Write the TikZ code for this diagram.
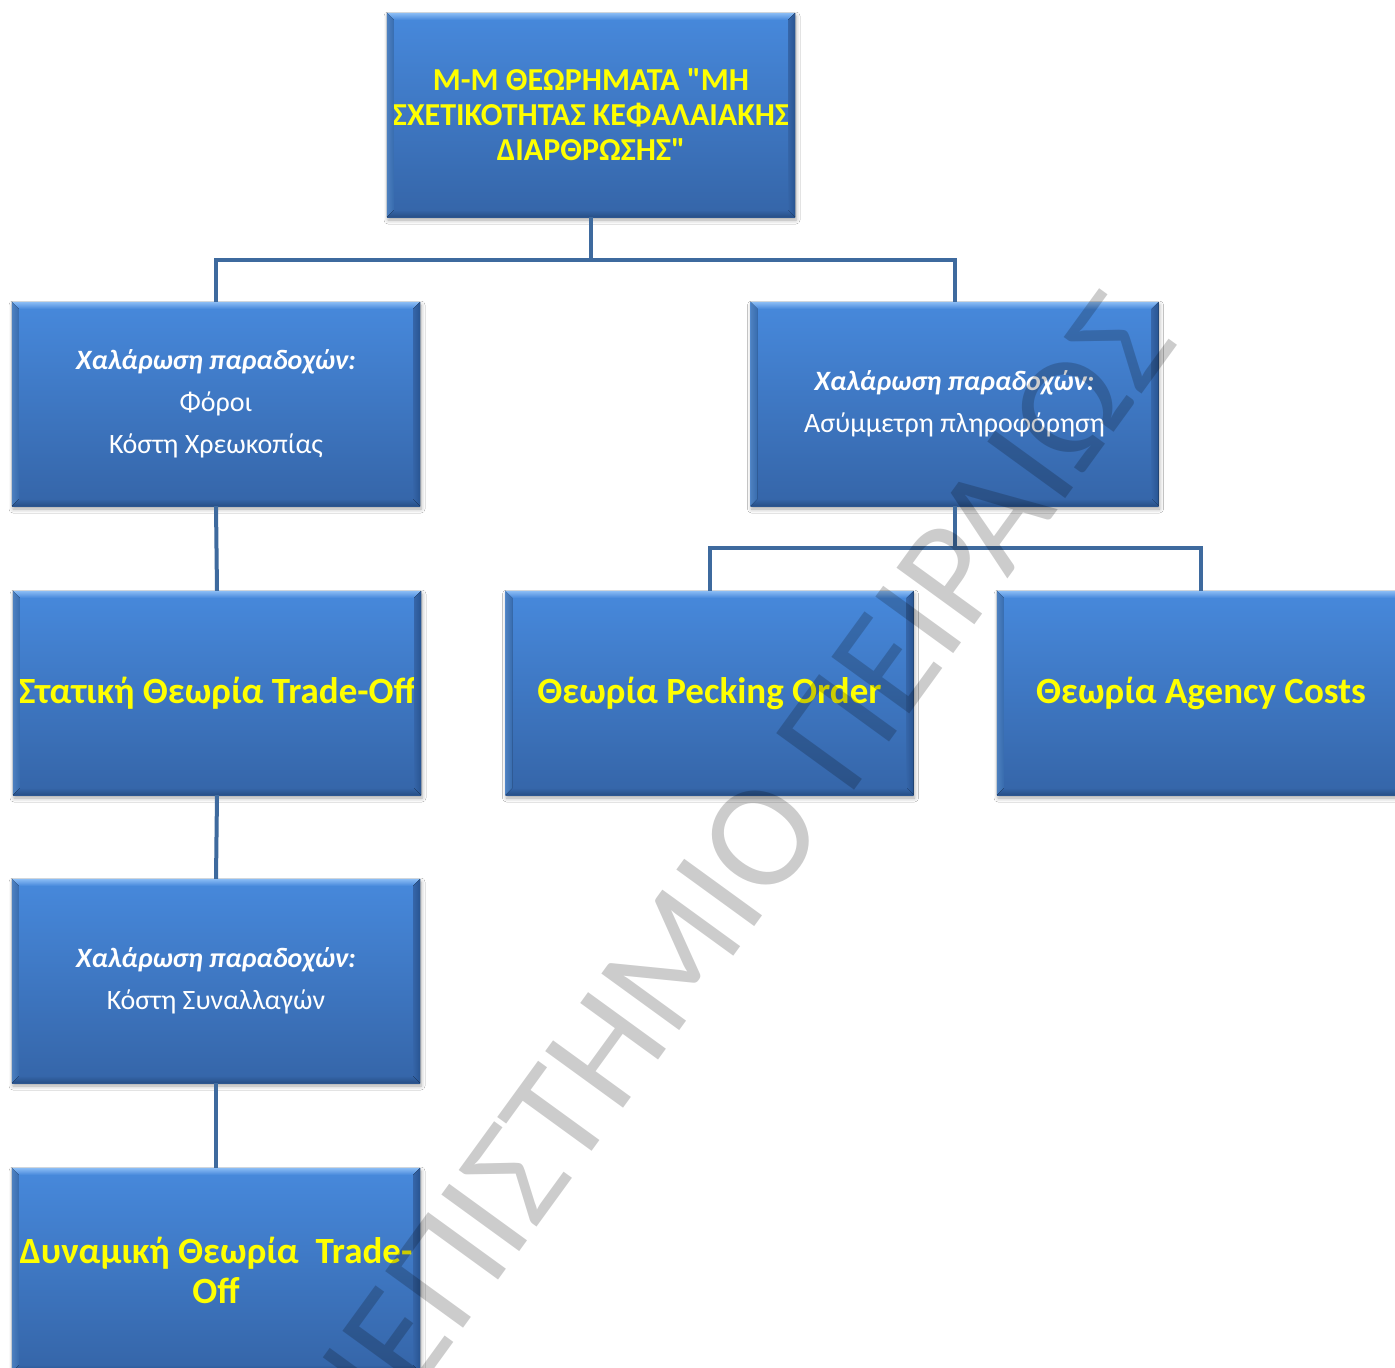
\documentclass[tikz,border=0pt]{standalone}
\usepackage{fontspec}
\setmainfont{Carlito}
\usetikzlibrary{shadows.blur}
\newcommand{\sqq}{\XeTeXglyph\XeTeXcharglyph"22\relax}
\definecolor{boxtop}{RGB}{71,137,220}
\definecolor{boxbot}{RGB}{53,101,168}
\definecolor{bevlight}{RGB}{140,189,245}
\definecolor{bevleft}{RGB}{94,155,230}
\definecolor{bevright}{RGB}{40,84,145}
\definecolor{bevbot}{RGB}{38,78,133}
\definecolor{connc}{RGB}{62,106,158}
\definecolor{ttlyellow}{RGB}{255,255,0}
\tikzset{
  box/.style={draw=none, minimum width=408pt, minimum height=204pt, inner sep=0pt,
    align=center, top color=boxtop, bottom color=boxbot,
    blur shadow={shadow xshift=1pt, shadow yshift=-3pt, shadow blur radius=4pt, shadow opacity=35}},
  ttl/.style={font=\bfseries\fontsize{37}{40}\selectfont, text=ttlyellow},
  toptxt/.style={font=\bfseries\fontsize{32}{35}\selectfont, text=ttlyellow},
  sub/.style={font=\fontsize{28}{42}\selectfont, text=white},
  conn/.style={draw=connc, line width=4pt, line join=miter},
  wmark/.style={font=\fontsize{150}{160}\selectfont, text=black, text opacity=0.2, inner sep=0pt}
}
\newcommand{\bevelbox}[1]{%
  \fill[top color=bevlight, bottom color=boxtop] (#1.north west) -- (#1.north east) -- ([shift={(-7,7)}]#1.north east) -- ([shift={(7,7)}]#1.north west) -- cycle;
  \fill[left color=bevleft, right color=boxtop!80!boxbot, opacity=0.8] (#1.north west) -- ([shift={(7,7)}]#1.north west) -- ([shift={(7,-7)}]#1.south west) -- (#1.south west) -- cycle;
  \fill[left color=boxbot, right color=bevright] (#1.north east) -- ([shift={(-7,7)}]#1.north east) -- ([shift={(-7,-7)}]#1.south east) -- (#1.south east) -- cycle;
  \fill[top color=boxbot, bottom color=bevbot] (#1.south west) -- ([shift={(7,-7)}]#1.south west) -- ([shift={(-7,-7)}]#1.south east) -- (#1.south east) -- cycle;
}
\begin{document}
\begin{tikzpicture}[x=1pt,y=-1pt]
\useasboundingbox (0,0) rectangle (1395,1368);
\clip (0,0) rectangle (1395,1368);
\fill[white] (0,0) rectangle (1395,1368);

\node[box, toptxt] (top) at (591,115) {Μ-Μ ΘΕΩΡΗΜΑΤΑ \sqq ΜΗ\\ΣΧΕΤΙΚΟΤΗΤΑΣ ΚΕΦΑΛΑΙΑΚΗΣ\\ΔΙΑΡΘΡΩΣΗΣ\sqq};
\node[box, sub] (l1) at (216,404) {{\bfseries\itshape Χαλάρωση παραδοχών:}\\Φόροι\\Κόστη Χρεωκοπίας};
\node[box, sub] (r1) at (954.5,404) {{\bfseries\itshape Χαλάρωση παραδοχών:}\\Ασύμμετρη πληροφόρηση};
\node[box, ttl] (l2) at (217,693) {Στατική Θεωρία Trade-Off};
\node[box, ttl] (m2) at (709.5,693) {Θεωρία Pecking Order};
\node[box, ttl] (r2) at (1201,693) {Θεωρία Agency Costs};
\node[box, sub] (l3) at (216,981) {{\bfseries\itshape Χαλάρωση παραδοχών:}\\Κόστη Συναλλαγών};
\node[box, ttl] (l4) at (216,1270) {Δυναμική Θεωρία~~Trade-\\Off};

\foreach \n in {top,l1,r1,l2,m2,r2,l3,l4} {\bevelbox{\n}}

\coordinate (j1) at (591,260);
\coordinate (j2) at (954.5,548);
\draw[conn] (top.south) -- (j1);
\draw[conn] (j1) -| (l1.north);
\draw[conn] (j1) -| (r1.north);
\draw[conn] (l1.south) -- (l2.north);
\draw[conn] (l2.south) -- (l3.north);
\draw[conn] (l3.south) -- (l4.north);
\draw[conn] (r1.south) -- (j2);
\draw[conn] (j2) -| (m2.north);
\draw[conn] (j2) -| (r2.north);

\node[wmark, rotate=54, anchor=base east] (wm) at (1180,342) {ΠΑΝΕΠΙΣΤΗΜΙΟ ΠΕΙΡΑΙΩΣ};
\end{tikzpicture}
\end{document}
